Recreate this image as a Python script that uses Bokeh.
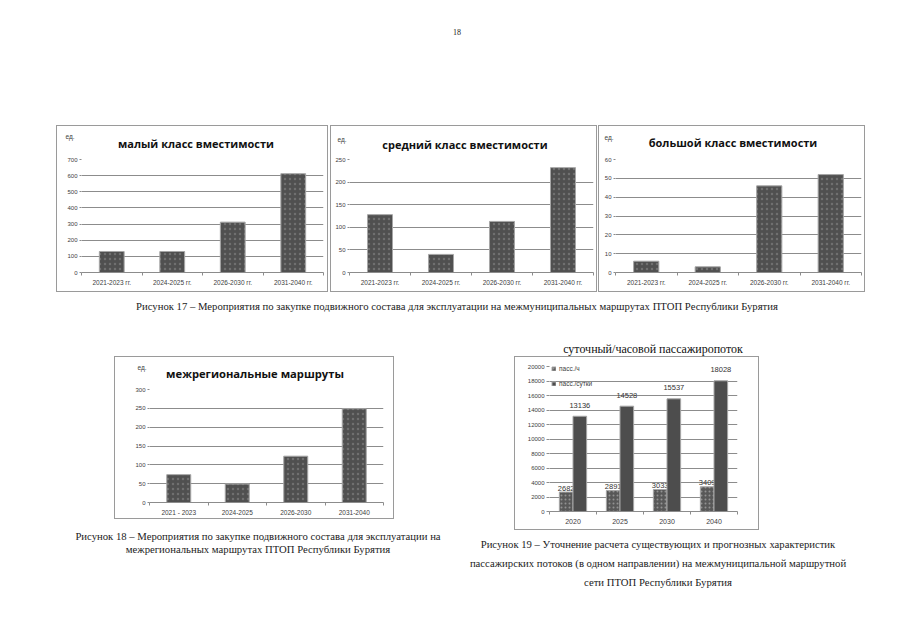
from bokeh.plotting import figure
from bokeh.layouts import row, column
from bokeh.models import Spacer, Div, FixedTicker, Legend, LegendItem
from bokeh.core.properties import value
from bokeh.embed import file_html
from bokeh.resources import INLINE

# ---------------- data ----------------
periods = ["2021-2023 гг.", "2024-2025 гг.", "2026-2030 гг.", "2031-2040 гг."]
small_class = [130, 130, 312, 612]
medium_class = [128, 40, 113, 232]
large_class = [6, 3, 46, 52]

interreg_periods = ["2021 - 2023", "2024-2025", "2026-2030", "2031-2040"]
interreg = [74, 49, 123, 249]

flow_years = ["2020", "2025", "2030", "2040"]
pass_hour = [2682, 2891, 3033, 3409]
pass_day = [13136, 14528, 15537, 18028]

GRID = "#8c8c8c"
BOXLINE = "#9a9a9a"
BAR = "#505050"
BAR_LINE = "#a6a6a6"
TXT = "#404040"
SANS = "Liberation Sans"
SERIF = "Liberation Serif"


def text_div(W, H, items):
    """items: (x_center, y_center, text, size, family, weight, color) in px inside the block"""
    spans = []
    for (x, y, t, size, fam, weight, color) in items:
        spans.append(
            f'<span style="position:absolute;left:{x}px;top:{y}px;transform:translate(-50%,-50%);'
            f'white-space:nowrap;font-family:\'{fam}\';font-size:{size};font-weight:{weight};'
            f'color:{color};line-height:1;">{t}</span>')
    html = f'<div style="position:relative;width:{W}px;height:{H}px;">' + "".join(spans) + "</div>"
    return Div(text=html, width=W, height=H, margin=0)


def hline(w):
    return Spacer(width=w, height=1, styles={"background-color": BOXLINE})


def vline(h):
    return Spacer(width=1, height=h, styles={"background-color": BOXLINE})


def style_axes(p, n, cats, ymax, ystep, xfont="6.5px"):
    xs = list(range(1, n + 1))
    p.outline_line_color = None
    p.xgrid.visible = False
    p.ygrid.ticker = FixedTicker(ticks=list(range(ystep, ymax + 1, ystep)))
    p.ygrid.grid_line_color = GRID
    p.yaxis.ticker = FixedTicker(ticks=list(range(0, ymax + 1, ystep)))
    p.yaxis.axis_line_color = None
    p.yaxis.major_tick_out = 2
    p.yaxis.major_tick_in = 0
    p.yaxis.minor_tick_line_color = None
    p.yaxis.major_tick_line_color = GRID
    p.yaxis.major_label_text_font_size = "6px"
    p.yaxis.major_label_text_font = SANS
    p.yaxis.major_label_text_color = TXT
    p.yaxis.major_label_standoff = 2
    p.xaxis.ticker = FixedTicker(ticks=xs, minor_ticks=[i + 0.5 for i in range(n + 1)])
    p.xaxis.major_label_overrides = {x: c for x, c in zip(xs, cats)}
    p.xaxis.major_tick_out = 0
    p.xaxis.major_tick_in = 0
    p.xaxis.minor_tick_out = 3
    p.xaxis.minor_tick_in = 0
    p.xaxis.minor_tick_line_color = GRID
    p.xaxis.axis_line_color = GRID
    p.xaxis.major_label_text_font_size = xfont
    p.xaxis.major_label_text_font = SANS
    p.xaxis.major_label_text_color = TXT
    p.xaxis.major_label_standoff = 3


def boxed(inner_items, W, H):
    return column(hline(W), row(vline(H - 2), column(*inner_items), vline(H - 2)), hline(W))


def bar_chart(title, cats, vals, ymax, ystep, box, frame, title_xy, unit_xy, title_size="11px"):
    x0, y0, x1, y1 = box
    fx0, fy0, fx1, fy1 = frame
    W, H = x1 - x0 + 1, y1 - y0 + 1
    iw, ih = W - 2, H - 2
    hh = fy0 - 3 - (y0 + 1)
    header = text_div(iw, hh, [
        (unit_xy[0] - (x0 + 1), unit_xy[1] - (y0 + 1), "ед.", "6.5px", SANS, "normal", TXT),
        (title_xy[0] - (x0 + 1), title_xy[1] - (y0 + 1), title, title_size, "Open Sans", "bold", "#111111"),
    ])
    n = len(cats)
    p = figure(width=iw, height=ih - hh, x_range=(0.5, n + 0.5), y_range=(0, ymax),
               output_backend="svg", toolbar_location=None,
               min_border_left=fx0 - (x0 + 1), min_border_right=x1 - fx1,
               min_border_top=3, min_border_bottom=y1 - fy1)
    p.vbar(x=list(range(1, n + 1)), top=vals, width=0.41, fill_color=BAR, line_color=BAR_LINE, line_width=1,
           hatch_pattern="dot", hatch_color="white", hatch_alpha=0.18, hatch_scale=5, hatch_weight=0.8)
    style_axes(p, n, cats, ymax, ystep)
    return boxed([header, p], W, H)


b1 = bar_chart("малый класс вместимости", periods, small_class, 700, 100,
               (56, 125, 327, 291), (81, 159, 323, 272), (196, 143), (70, 137))
b2 = bar_chart("средний класс вместимости", periods, medium_class, 250, 50,
               (330, 125, 596, 291), (349, 159, 593, 272), (465, 144), (342, 140))
b3 = bar_chart("большой класс вместимости", periods, large_class, 60, 10,
               (598, 125, 864, 291), (615, 159, 861, 272), (733, 142), (609, 138))
b18 = bar_chart("межрегиональные маршруты", interreg_periods, interreg, 300, 50,
                (114, 356, 393, 518), (149, 389, 383, 502), (255, 374), (142, 368), title_size="11.2px")

# ---------------- chart 19 ----------------
x0, y0, x1, y1 = 514, 356, 758, 529
fx0, fy0, fx1, fy1 = 549, 366, 737, 511
W19, H19 = x1 - x0 + 1, y1 - y0 + 1
p19 = figure(width=W19 - 2, height=H19 - 2, x_range=(0.5, 4.5), y_range=(0, 20000),
             output_backend="svg", toolbar_location=None,
             min_border_left=fx0 - (x0 + 1), min_border_right=x1 - fx1,
             min_border_top=fy0 - (y0 + 1), min_border_bottom=y1 - fy1)
xs19 = list(range(1, len(flow_years) + 1))
off, bw = 0.145, 0.29
xh = [x - off for x in xs19]
xd = [x + off for x in xs19]
r1 = p19.vbar(x=xh, top=pass_hour, width=bw, fill_color="#585858", line_color=BAR_LINE, line_width=1,
              hatch_pattern="dot", hatch_color="white", hatch_alpha=0.35, hatch_scale=4, hatch_weight=0.8)
p19.text(x=xh, y=pass_hour, text=[str(v) for v in pass_hour], text_align="center", text_baseline="middle",
         y_offset=-4, text_font=value(SANS), text_font_size="7.5px", text_color="#333333")
r2 = p19.vbar(x=xd, top=pass_day, width=bw, fill_color="#4d4d4d", line_color=BAR_LINE, line_width=1)
p19.text(x=xd, y=pass_day, text=[str(v) for v in pass_day], text_align="center", text_baseline="middle",
         y_offset=-11, text_font=value(SANS), text_font_size="7.5px", text_color="#333333")
style_axes(p19, 4, flow_years, 20000, 2000, xfont="7px")
p19.yaxis.major_tick_out = 3
p19.xaxis.major_label_standoff = 4
leg = Legend(items=[LegendItem(label="пасс./ч", renderers=[r1]),
                    LegendItem(label="пасс./сутки", renderers=[r2])],
             location=(2, 123), orientation="vertical", padding=0, margin=0, spacing=6,
             glyph_width=5, glyph_height=5, label_height=9, label_standoff=3,
             label_text_font=SANS, label_text_font_size="6.5px", label_text_color=TXT,
             border_line_color=None, background_fill_alpha=0)
p19.add_layout(leg)
b19 = boxed([p19], W19, H19)

# ---------------- text blocks ----------------
CAP = "10.7px"
INK = "#222222"
page_no = text_div(889, 117, [(449, 25, "18", "8px", SERIF, "normal", INK)])
cap17 = text_div(889, 46, [(449, 14, "Рисунок 17 – Мероприятия по закупке подвижного состава для эксплуатации "
                                     "на межмуниципальных маршрутах ПТОП Республики Бурятия",
                            CAP, SERIF, "normal", INK)])
title19 = text_div(389, 18, [(145, 11, "суточный/часовой пассажиропоток", "12px", SERIF, "normal", "#111111")])
cap18 = text_div(455, 95, [
    (250, 6, "Рисунок 18 – Мероприятия по закупке подвижного состава для эксплуатации на", CAP, SERIF, "normal", INK),
    (250, 19, "межрегиональных маршрутах ПТОП Республики Бурятия", CAP, SERIF, "normal", INK),
])
cap19 = text_div(434, 95, [
    (195, 14, "Рисунок 19 – Уточнение расчета существующих и прогнозных характеристик", CAP, SERIF, "normal", INK),
    (195, 33, "пассажирских потоков (в одном направлении) на межмуниципальной маршрутной", CAP, SERIF, "normal", INK),
    (195, 52, "сети ПТОП Республики Бурятия", CAP, SERIF, "normal", INK),
])

row1 = row(Spacer(width=48, height=167), b1, Spacer(width=2, height=167), b2,
           Spacer(width=1, height=167), b3)
colA = column(Spacer(width=500, height=18), row(Spacer(width=106, height=163), b18))
colB = column(title19, row(Spacer(width=6, height=174), b19))
row2 = row(colA, colB)
row3 = row(cap18, cap19)

content = column(page_no, row1, cap17, row2, row3)
layout = column(Spacer(width=897, height=8), row(Spacer(width=8, height=617), content))

open("out.html", "w").write(file_html(layout, INLINE))
